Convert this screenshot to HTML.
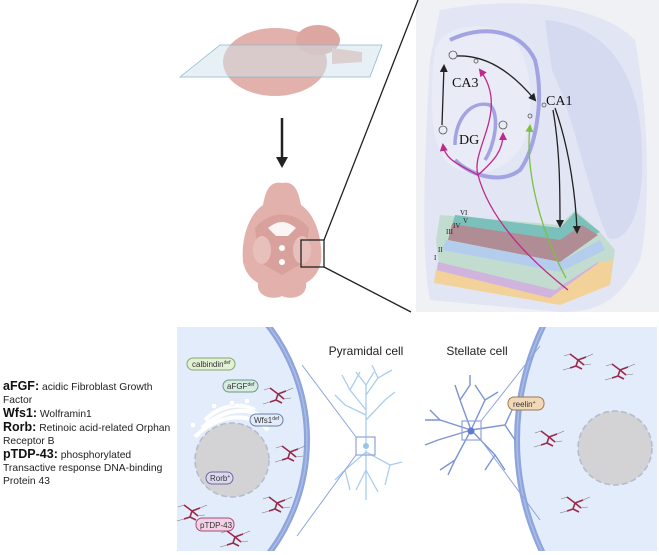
<!DOCTYPE html>
<html><head><meta charset="utf-8"><style>
html,body{margin:0;width:659px;height:555px;background:#fff;overflow:hidden;font-family:"Liberation Sans",sans-serif}
.leg{position:absolute;left:3px;top:380px;font-size:10.3px;line-height:13px;color:#222;width:170px}
.leg b{font-size:12.5px;color:#111}
</style></head><body>
<div class="leg"><b>aFGF:</b> acidic Fibroblast Growth<br>Factor<br><b>Wfs1:</b> Wolframin1<br><b>Rorb:</b> Retinoic acid-related Orphan<br>Receptor B<br><b>pTDP-43:</b> phosphorylated<br>Transactive response DNA-binding<br>Protein 43</div>
<svg width="659" height="555" style="position:absolute;left:0;top:0" xmlns="http://www.w3.org/2000/svg">
<defs>
<clipPath id="cl"><rect x="177" y="327" width="200" height="224"/></clipPath>
<clipPath id="cr"><rect x="480" y="327" width="177" height="224"/></clipPath>
<clipPath id="ch"><rect x="416" y="0" width="243" height="312"/></clipPath>
<marker id="ak" markerWidth="8" markerHeight="8" refX="6" refY="4" orient="auto" markerUnits="userSpaceOnUse"><path d="M0,0L8,4L0,8z" fill="#222"/></marker>
<marker id="am" markerWidth="8" markerHeight="8" refX="6" refY="4" orient="auto" markerUnits="userSpaceOnUse"><path d="M0,0L8,4L0,8z" fill="#c0288a"/></marker>
<marker id="ag" markerWidth="8" markerHeight="8" refX="6" refY="4" orient="auto" markerUnits="userSpaceOnUse"><path d="M0,0L8,4L0,8z" fill="#7cc040"/></marker>
<g id="tau"><path d="M-8,-6L0,0L8,-3M0,0L-2,6L-8,8M0,0L6,5M-2,6L4,9" stroke="#9a2a4a" stroke-width="1.6" fill="none"/><path d="M-14,-4L-8,-6M8,-3L15,-6M-8,8L-15,10M6,5L13,4" stroke="#777" stroke-width="0.6" fill="none"/></g>
</defs>
<g clip-path="url(#ch)">
<rect x="416" y="0" width="243" height="312" fill="#f0f1f5"/>
<path d="M440,10 C520,-5 600,5 635,40 C650,120 650,220 640,260 C620,300 600,312 560,312 L430,300 C420,250 425,150 430,60Z" fill="#e2e5f3"/>
<path d="M545,20 C605,25 640,70 642,150 C645,215 625,245 608,238 C590,200 575,120 552,70Z" fill="#d6daf0"/>
<path d="M435,50 C440,30 470,20 500,30 C525,40 535,80 528,130 C520,165 480,185 450,165 C432,150 428,110 435,50Z" fill="#e9ebf6"/>
<path d="M450,40 C480,25 520,28 535,60 C545,100 535,150 520,170 C500,185 470,175 455,160" stroke="#a3a3e4" stroke-width="4" fill="none"/>
<path d="M455,145 C455,120 470,100 490,105 C500,115 495,145 485,160" stroke="#a3a3e4" stroke-width="3.5" fill="none"/>
<path d="M436,240 L440,215 L560,225 L575,210 L600,232 L615,250 L610,285 L560,302 L480,290 L440,275Z" fill="#c2ddcf"/>
<path d="M455,215 L560,228 L575,212 L600,232 L560,250 L450,232Z" fill="#7cc0bb"/>
<path d="M452,224 L560,240 L582,225 L598,235 L560,262 L448,240Z" fill="#b08c94"/>
<path d="M446,240 L560,262 L600,240 L605,250 L560,272 L442,250Z" fill="#b4cdec"/>
<path d="M438,262 L555,290 L598,262 L604,275 L560,302 L436,275Z" fill="#d0b4dd"/>
<path d="M436,270 L550,298 L600,262 L613,260 L610,285 L560,305 L434,283Z" fill="#f2d298"/>
<g font-family="Liberation Serif,serif" font-size="7" fill="#222"><text x="460" y="215">VI</text><text x="463" y="223">V</text><text x="453" y="228">IV</text><text x="446" y="234">III</text><text x="438" y="252">II</text><text x="434" y="260">I</text></g>
<g font-family="Liberation Serif,serif" font-size="14" fill="#111"><text x="452" y="87">CA3</text><text x="546" y="105">CA1</text><text x="459" y="144">DG</text></g>
<g stroke="#555" stroke-width="0.8" fill="none"><circle cx="453" cy="55" r="4"/><circle cx="443" cy="130" r="4"/><circle cx="503" cy="125" r="4"/><circle cx="476" cy="61" r="2"/><circle cx="544" cy="105" r="2"/><circle cx="530" cy="116" r="2"/></g>
<path d="M442,125 L444,66" stroke="#222" stroke-width="1.3" fill="none" marker-end="url(#ak)"/>
<path d="M457,56 C485,55 510,70 535,100" stroke="#222" stroke-width="1.3" fill="none" marker-end="url(#ak)"/>
<path d="M553,110 C560,150 560,190 560,226" stroke="#222" stroke-width="1.3" fill="none" marker-end="url(#ak)"/>
<path d="M555,108 C570,150 576,200 577,232" stroke="#222" stroke-width="1.3" fill="none" marker-end="url(#ak)"/>
<path d="M566,278 C540,230 525,170 530,126" stroke="#7cc040" stroke-width="1.3" fill="none" marker-end="url(#ag)"/>
<path d="M568,290 C530,260 490,220 478,175 C470,150 510,110 480,70" stroke="#c0288a" stroke-width="1.3" fill="none" marker-end="url(#am)"/>
<path d="M478,175 C460,165 445,160 443,145" stroke="#c0288a" stroke-width="1.3" fill="none" marker-end="url(#am)"/>
<path d="M478,175 C495,160 503,150 503,134" stroke="#c0288a" stroke-width="1.3" fill="none" marker-end="url(#am)"/>
</g>
<!-- top brain -->
<ellipse cx="275" cy="62" rx="52" ry="34" fill="#e2b1ab"/>
<ellipse cx="318" cy="40" rx="22" ry="15" fill="#dca6a1"/>
<path d="M332,48 L362,52 L362,62 L332,64Z" fill="#e6bbb5"/>
<path d="M180,77 L220,45 L382,45 L370,77Z" fill="#cfe3ec" fill-opacity=".5" stroke="#8ab8cf" stroke-width="0.8"/>
<path d="M282,118 L282,160" stroke="#222" stroke-width="2.5"/>
<path d="M276,157 L288,157 L282,168Z" fill="#222"/>
<!-- bottom brain -->
<path d="M282,183 C268,180 265,195 263,205 C248,215 241,240 243,262 C246,275 253,280 258,283 C256,298 275,300 282,296 C289,300 308,298 306,283 C311,280 318,275 321,262 C323,240 316,215 301,205 C299,195 296,180 282,183Z" fill="#e2b1ab"/>
<path d="M255,228 C270,210 294,210 309,228 L305,262 L282,275 L259,262Z" fill="#d8a19c"/>
<path d="M268,228 C278,220 286,220 296,228 L288,236 L276,236Z" fill="#fff" opacity=".9"/>
<ellipse cx="262" cy="250" rx="9" ry="14" fill="#e8c0bb"/><ellipse cx="302" cy="250" rx="9" ry="14" fill="#e8c0bb"/>
<circle cx="282" cy="248" r="3" fill="#fff"/><circle cx="282" cy="262" r="3" fill="#fff"/>
<rect x="301" y="240" width="23" height="27" fill="none" stroke="#222" stroke-width="1.3"/>
<path d="M324,240 L418,0 M324,267 L411,312" stroke="#222" stroke-width="1.3"/>
<!-- bottom cells -->
<g clip-path="url(#cl)"><circle cx="119" cy="440" r="190" fill="#e3ecfa"/><circle cx="119" cy="440" r="188" fill="none" stroke="#8ea4dc" stroke-width="6"/><circle cx="119" cy="440" r="188" fill="none" stroke="#aabce6" stroke-width="1.5"/></g>
<g clip-path="url(#cr)"><circle cx="778" cy="440" r="263" fill="#e3ecfa"/><circle cx="778" cy="440" r="261" fill="none" stroke="#8ea4dc" stroke-width="6"/><circle cx="778" cy="440" r="261" fill="none" stroke="#aabce6" stroke-width="1.5"/></g>
<g stroke="#fff" stroke-width="4" fill="none"><path d="M195,437 C215,415 250,410 268,430"/><path d="M202,428 C220,410 250,405 262,418"/><path d="M205,420 C220,405 240,402 255,410"/></g>
<g fill="#fff" stroke="#cfd8ea" stroke-width=".5"><circle cx="193" cy="425" r="3"/><circle cx="214" cy="406" r="3"/><circle cx="232" cy="403" r="3"/><circle cx="247" cy="401" r="3"/></g>
<circle cx="232" cy="460" r="37" fill="#d3d3d6" stroke="#b3bbcc" stroke-width="1.5" stroke-dasharray="6,3"/>
<circle cx="615" cy="448" r="37" fill="#d3d3d6" stroke="#b3bbcc" stroke-width="1.5" stroke-dasharray="6,3"/>
<g font-size="8" font-family="Liberation Sans,sans-serif" fill="#333">
<rect x="187" y="358" width="48" height="12" rx="6" fill="#e2f0d4" stroke="#86a86a"/><text x="192" y="367">calbindin<tspan font-size="5" dy="-3">def</tspan></text>
<rect x="223" y="380" width="35" height="12" rx="6" fill="#d6ebe2" stroke="#6a9a86"/><text x="227" y="389">aFGF<tspan font-size="5" dy="-3">def</tspan></text>
<rect x="250" y="414" width="33" height="12" rx="6" fill="#e3ecfa" stroke="#6a7ea8"/><text x="254" y="423">Wfs1<tspan font-size="5" dy="-3">def</tspan></text>
<rect x="206" y="472" width="27" height="12" rx="6" fill="#dcd8f0" stroke="#6a6a9a"/><text x="210" y="481">Rorb<tspan font-size="5" dy="-3">+</tspan></text>
<rect x="196" y="518" width="38" height="13" rx="6" fill="#f3d2e6" stroke="#a84a7a"/><text x="200" y="528">pTDP-43</text>
<rect x="508" y="397" width="36" height="13" rx="6" fill="#f2d8b8" stroke="#9a7a4a"/><text x="513" y="407">reelin<tspan font-size="5" dy="-3">+</tspan></text>
</g>
<g><use href="#tau" x="278" y="394"/><use href="#tau" x="290" y="452"/><use href="#tau" x="277" y="503"/><use href="#tau" x="192" y="511"/><use href="#tau" x="235" y="537"/><use href="#tau" x="578" y="360"/><use href="#tau" x="620" y="370"/><use href="#tau" x="549" y="437"/><use href="#tau" x="575" y="503"/></g>
<text x="366" y="355" font-size="12" text-anchor="middle" fill="#222">Pyramidal cell</text>
<text x="477" y="355" font-size="12" text-anchor="middle" fill="#222">Stellate cell</text>
<g stroke="#a9cdee" stroke-width="1.3" fill="none">
<path d="M366,445 L366,385 M366,410 L350,390 L342,375 M350,390 L360,372 M366,395 L378,378 L392,370 M378,378 L372,365 M366,420 L385,400 L395,392 M366,415 L345,405 L335,395 M366,385 L356,372 M366,385 L374,372"/>
<path d="M366,450 L366,500 M366,452 L345,470 L335,480 M366,452 L390,465 L402,462 M345,470 L350,490 M390,465 L385,485 M366,470 L356,490 M366,470 L378,492"/>
</g>
<circle cx="366" cy="446" r="3" fill="#9cc3ea"/>
<rect x="356" y="437" width="19" height="18" fill="none" stroke="#8ea4dc" stroke-width="1.2"/>
<path d="M356,437 L302,365 M356,455 L297,536" stroke="#8ea4dc" stroke-width="1"/>
<g stroke="#7d94d4" stroke-width="1.4" fill="none">
<path d="M471,430 L440,420 L425,420 M440,420 L430,410 M471,430 L460,400 L455,385 M460,400 L470,385 L470,375 M471,430 L485,400 L475,385 M485,400 L498,392 M471,430 L505,425 L512,410 M505,425 L515,440 M471,430 L495,455 L505,470 M495,455 L485,470 M471,430 L455,460 L448,475 M455,460 L440,470 M471,430 L438,440 L425,445"/>
</g>
<circle cx="471" cy="431" r="3.5" fill="#5f7ad0"/>
<rect x="462" y="421" width="19" height="19" fill="none" stroke="#8ea4dc" stroke-width="1.2"/>
<path d="M481,421 L540,346 M481,440 L540,520" stroke="#8ea4dc" stroke-width="1"/>
</svg>
</body></html>
